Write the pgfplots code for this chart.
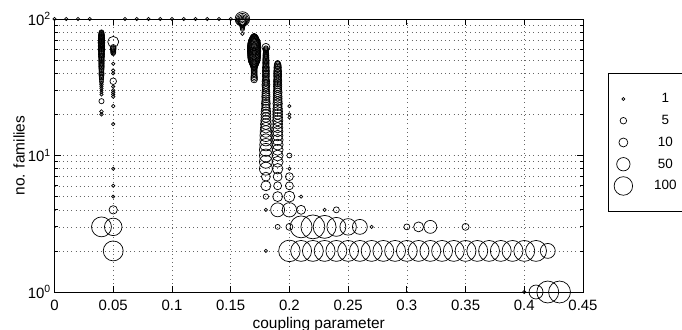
\documentclass[border=0pt]{standalone}
\usepackage{fontspec}
\setmainfont{Liberation Sans}
\usepackage{pgfplots}
\pgfplotsset{compat=1.18}
\usepackage{pgfplotstable}

\pgfplotstableread{
x y r
0 100 1.6
0.01 100 1.6
0.02 100 1.6
0.03 100 1.6
0.06 100 1.6
0.07 100 1.6
0.08 100 1.6
0.09 100 1.6
0.10 100 1.6
0.11 100 1.6
0.12 100 1.6
0.13 100 1.6
0.14 100 1.6
0.15 100 1.6
0.04 20 1.8
0.04 21 1.8
0.04 25 2.6
0.04 28 1.6
0.04 29 1.6
0.04 30 1.6
0.04 31 1.7
0.04 32 1.7
0.04 33 1.8
0.04 34 1.8
0.04 35 2.0
0.04 36 2.0
0.04 37 2.2
0.04 38 2.2
0.04 39 2.6
0.04 40 2.6
0.04 41 2.4
0.04 42 2.4
0.04 43 2.6
0.04 44 2.6
0.04 45 2.8
0.04 46 2.6
0.04 47 2.8
0.04 48 2.6
0.04 49 2.8
0.04 50 2.8
0.04 51 2.6
0.04 52 2.8
0.04 53 3.0
0.04 54 2.8
0.04 55 3.0
0.04 56 3.0
0.04 57 2.8
0.04 58 3.0
0.04 59 3.2
0.04 60 3.0
0.04 61 3.2
0.04 62 3.0
0.04 63 3.2
0.04 64 3.2
0.04 65 3.0
0.04 66 3.2
0.04 67 3.4
0.04 68 3.2
0.04 69 3.0
0.04 70 3.2
0.04 71 3.0
0.04 72 3.2
0.04 73 3.0
0.04 74 3.0
0.04 75 2.8
0.04 76 3.0
0.04 77 2.8
0.04 78 2.6
0.04 79 2.6
0.04 80 2.4
0.04 3 10.0
0.05 68 5.5
0.05 62 2.8
0.05 61 2.8
0.05 60 2.8
0.05 59 2.5
0.05 58 2.5
0.05 57 2.5
0.05 56 2.2
0.05 47 1.7
0.05 42 1.7
0.05 40 1.7
0.05 35 3.3
0.05 32 1.7
0.05 30 1.7
0.05 29 1.7
0.05 28 1.7
0.05 27 1.7
0.05 23 1.7
0.05 17 1.7
0.05 8 1.6
0.05 6 1.6
0.05 5 1.6
0.05 4 4.2
0.05 3 8.8
0.05 2 10.0
0.16 100 7.3
0.16 99 6.2
0.16 98 5.5
0.16 97 4.8
0.16 96 4.2
0.16 95 3.8
0.16 94 3.4
0.16 92 3.0
0.16 90 2.8
0.16 88 2.5
0.16 86 2.2
0.16 84 2.0
0.16 78 1.7
0.17 76 1.7
0.17 75 2.5
0.17 74 3.2
0.17 73 3.8
0.17 72 4.3
0.17 71 4.8
0.17 70 5.2
0.17 69 5.5
0.17 68 5.8
0.17 67 6.0
0.17 66 6.2
0.17 65 6.3
0.17 64 6.5
0.17 63 6.5
0.17 62 6.5
0.17 61 6.7
0.17 60 6.5
0.17 59 6.5
0.17 58 6.7
0.17 57 6.5
0.17 56 6.5
0.17 55 6.3
0.17 54 6.5
0.17 53 6.3
0.17 52 6.2
0.17 51 6.0
0.17 50 5.8
0.17 49 5.5
0.17 48 5.0
0.17 47 4.5
0.17 46 4.0
0.17 45 3.5
0.17 44 3.2
0.17 43 3.0
0.17 42 3.0
0.17 41 3.0
0.17 40 3.0
0.17 39 3.0
0.17 38 3.2
0.17 37 3.3
0.17 36 3.3
0.18 62 4.0
0.18 61 2.5
0.18 60 2.5
0.18 59 2.5
0.18 58 2.5
0.18 57 2.5
0.18 56 2.8
0.18 55 2.8
0.18 54 3.0
0.18 53 2.8
0.18 52 3.0
0.18 51 3.0
0.18 50 3.2
0.18 49 3.0
0.18 48 3.2
0.18 47 3.2
0.18 46 3.0
0.18 45 3.2
0.18 44 3.5
0.18 43 3.2
0.18 42 3.5
0.18 41 3.5
0.18 40 3.2
0.18 39 3.5
0.18 38 3.5
0.18 37 3.2
0.18 36 3.5
0.18 35 3.8
0.18 34 3.5
0.18 33 4.0
0.18 32 3.8
0.18 31 3.5
0.18 30 3.8
0.18 29 4.0
0.18 28 4.0
0.18 27 4.2
0.18 26 4.0
0.18 25 4.2
0.18 24 4.5
0.18 23 4.2
0.18 22 4.5
0.18 21 4.8
0.18 20 5.0
0.18 19 5.0
0.18 18 5.2
0.18 17 5.5
0.18 16 5.5
0.18 15 5.8
0.18 14 6.0
0.18 13 6.0
0.18 12 6.2
0.18 11 6.5
0.18 10 6.5
0.18 9 6.5
0.18 8 6.5
0.18 7 4.5
0.18 6 5.0
0.18 5 2.7
0.18 4 1.6
0.18 2 1.6
0.19 48 2.0
0.19 47 3.0
0.19 46 3.5
0.19 45 3.5
0.19 44 3.8
0.19 43 3.5
0.19 42 3.8
0.19 41 4.0
0.19 40 3.8
0.19 39 4.0
0.19 38 4.0
0.19 37 3.8
0.19 36 4.0
0.19 35 4.2
0.19 34 4.0
0.19 33 4.2
0.19 32 4.2
0.19 31 4.0
0.19 30 4.2
0.19 29 4.5
0.19 28 4.2
0.19 27 4.5
0.19 26 4.5
0.19 25 4.5
0.19 24 4.8
0.19 23 4.5
0.19 22 4.8
0.19 21 5.0
0.19 20 5.0
0.19 19 5.0
0.19 18 5.2
0.19 17 5.0
0.19 16 5.2
0.19 15 5.3
0.19 14 5.3
0.19 13 5.5
0.19 12 5.5
0.19 11 5.5
0.19 10 5.5
0.19 9 5.5
0.19 8 5.3
0.19 7 4.5
0.19 6 4.0
0.19 5 5.0
0.19 4 7.0
0.19 3 2.5
0.20 23 1.6
0.20 20 1.6
0.20 19 1.6
0.20 10 2.5
0.20 8 1.6
0.20 7 4.0
0.20 6 4.0
0.20 5 5.5
0.20 4 7.2
0.20 3 3.5
0.20 2 10.8
0.21 5 1.6
0.21 4 4.5
0.21 3 11.0
0.21 2 10.5
0.22 3 12.0
0.22 2 10.5
0.23 4 1.6
0.23 3 11.5
0.23 2 10.5
0.24 4 3.0
0.24 3 9.5
0.24 2 10.5
0.25 3 8.3
0.25 2 10.5
0.26 3 7.5
0.26 2 10.5
0.27 3 1.6
0.27 2 10.5
0.28 2 10.5
0.29 2 10.5
0.30 3 3.0
0.30 2 10.5
0.31 3 5.0
0.31 2 10.5
0.32 3 6.5
0.32 2 10.5
0.33 2 10.5
0.34 2 10.5
0.35 3 3.5
0.35 2 10.5
0.36 2 10.5
0.37 2 10.5
0.38 2 10.5
0.39 2 10.5
0.40 2 10.5
0.41 2 10.5
0.42 2 7.5
0.40 1 1.6
0.41 1 7.0
0.42 1 11.0
0.43 1 11.0
}\bubbles

\begin{document}
\begin{tikzpicture}
\path[use as bounding box] (-54.5bp,-38bp) rectangle (627.5bp,292bp);
\begin{axis}[
  at={(0bp,0bp)}, anchor=south west,
  scale only axis, width=528.5bp, height=273bp,
  xmin=0, xmax=0.45, ymin=1, ymax=100, ymode=log,
  clip=false,
  axis line style={line width=1bp},
  tick style={black, line width=0.8bp},
  tick align=inside,
  major tick length=6bp, minor tick length=3bp,
  xtick={0,0.05,0.1,0.15,0.2,0.25,0.3,0.35,0.4,0.45},
  xticklabels={0,0.05,0.1,0.15,0.2,0.25,0.3,0.35,0.4,0.45},
  minor x tick num=0,
  ytick={1,10,100},
  yticklabels={10\textsuperscript{0},10\textsuperscript{1},10\textsuperscript{2}},
  xmajorgrids, ymajorgrids, yminorgrids,
  major grid style={black!60, line width=0.55bp, dash pattern=on 0.6bp off 3.6bp},
  minor grid style={black!60, line width=0.55bp, dash pattern=on 0.6bp off 3.6bp},
  ticklabel style={font=\fontsize{15}{15}\selectfont},
  xticklabel style={inner sep=0pt, anchor=north, yshift=-8bp},
  yticklabel style={inner sep=0pt, anchor=east, xshift=-3.5bp},
  xlabel={coupling parameter}, ylabel={no. families},
  every axis x label/.style={at={(axis description cs:0.5,-0.0905)}, anchor=north, inner sep=0pt, font=\fontsize{15.5}{16}\selectfont},
  every axis y label/.style={at={(axis description cs:-0.0558,0.5)}, rotate=90, anchor=south, inner sep=0pt, font=\fontsize{15.5}{16}\selectfont},
  legend cell align=center,
  legend style={at={(1.0473,0.8033)}, anchor=north west, draw=black, line width=0.8bp,
    font=\fontsize{13.5}{14}\selectfont, inner xsep=5.7bp, inner ysep=15bp,
    row sep=0bp, column sep=21.5bp,
    nodes={inner sep=0pt, minimum height=21.75bp, anchor=center}},
]
\addplot[forget plot, only marks, mark=o, black, line width=0.7bp,
  scatter, scatter/use mapped color={draw=black},
  point meta=explicit,
  visualization depends on={\thisrow{r}\as\rad},
  scatter/@pre marker code/.append style={/tikz/mark size=\rad}]
  table[x=x, y=y, meta=r] {\bubbles};
\addlegendimage{only marks, mark=o, black, line width=0.7bp, mark size=1.5}
\addlegendentry{1}
\addlegendimage{only marks, mark=o, black, line width=0.7bp, mark size=3.3}
\addlegendentry{5}
\addlegendimage{only marks, mark=o, black, line width=0.7bp, mark size=4.5}
\addlegendentry{10}
\addlegendimage{only marks, mark=o, black, line width=0.7bp, mark size=6.7}
\addlegendentry{50}
\addlegendimage{only marks, mark=o, black, line width=0.7bp, mark size=9.3}
\addlegendentry{100}
\end{axis}
\end{tikzpicture}
\end{document}
